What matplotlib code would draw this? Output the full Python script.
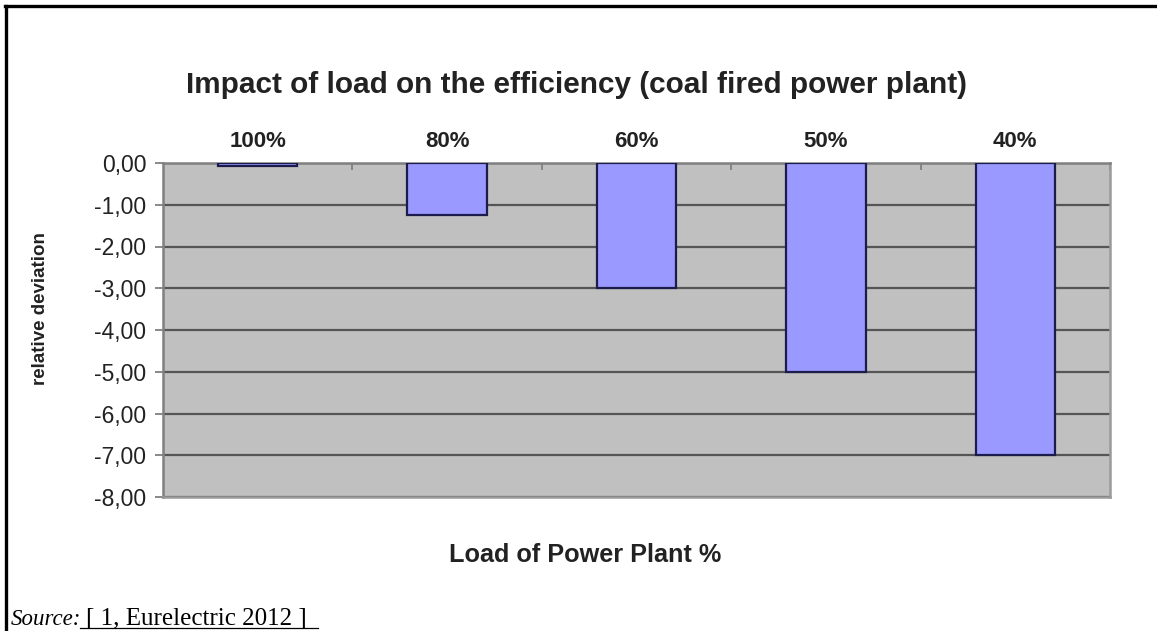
import matplotlib.pyplot as plt
import matplotlib.lines as mlines

# data
loads = ['100%', '80%', '60%', '50%', '40%']
deviation = [-0.08, -1.25, -3.0, -5.0, -7.0]
y_ticks = [0, -1, -2, -3, -4, -5, -6, -7, -8]

W, H = 1157, 631
fig = plt.figure(figsize=(W / 100, H / 100), dpi=100)
fig.patch.set_facecolor('white')

# plot area in pixel coords
left, right, top, bottom = 163, 1110, 163, 497
ax = fig.add_axes([left / W, 1 - bottom / H, (right - left) / W, (bottom - top) / H])
ax.set_facecolor('#C0C0C0')

x = list(range(len(loads)))
ax.bar(x, deviation, width=0.42, color='#9999FF', edgecolor='#1C1C4C',
       linewidth=1.6, zorder=3)

ax.set_xlim(-0.5, len(loads) - 0.5)
ax.set_ylim(-8, 0)

# gridlines
ax.set_yticks(y_ticks)
ax.yaxis.grid(True, color='#555555', linewidth=1.6, zorder=1)
ax.set_axisbelow(True)
ax.set_yticklabels([f'{v:.2f}'.replace('.', ',') for v in y_ticks],
                   fontsize=16.5, family='Liberation Sans', color='#222222')
ax.tick_params(axis='y', direction='out', length=6, width=1.3, color='#808080', pad=6)

# category labels on top
ax.xaxis.tick_top()
ax.set_xticks(x)
ax.set_xticklabels(loads, fontsize=16, fontweight='bold', family='Liberation Sans',
                   color='#222222')
ax.tick_params(axis='x', which='major', length=0, pad=8)
ax.set_xticks([i + 0.5 for i in range(len(loads))], minor=True)
ax.tick_params(axis='x', which='minor', direction='in', length=5, width=1.3,
               color='#808080', top=True, bottom=False)

for s in ['top', 'left']:
    ax.spines[s].set_color('#808080')
    ax.spines[s].set_linewidth(1.8)
for s in ['right', 'bottom']:
    ax.spines[s].set_color('#9A9A9A')
    ax.spines[s].set_linewidth(1.8)

fig.text(41 / W, 1 - 309 / H, 'relative deviation', rotation=90, ha='center', va='center',
         fontsize=13.5, fontweight='bold', family='Liberation Sans', color='#222222')

fig.text(576 / W, 1 - 85 / H, 'Impact of load on the efficiency (coal fired power plant)',
         ha='center', va='center', fontsize=21.4, fontweight='bold',
         family='Liberation Sans', color='#222222')
fig.text(585 / W, 1 - 555 / H, 'Load of Power Plant %', ha='center', va='center',
         fontsize=18.2, fontweight='bold', family='Liberation Sans', color='#222222')

# outer frame (top and left only)
fig.add_artist(mlines.Line2D([5 / W, 1], [1 - 6 / H, 1 - 6 / H], color='black',
                             linewidth=2.4, transform=fig.transFigure))
fig.add_artist(mlines.Line2D([6 / W, 6 / W], [0, 1 - 6 / H], color='black',
                             linewidth=2.4, transform=fig.transFigure))

# source line
fig.text(11 / W, 1 - 625 / H, 'Source:', fontsize=16.5, style='italic',
         family='Liberation Serif', va='baseline')
fig.text(86 / W, 1 - 625 / H, '[ 1, Eurelectric 2012 ]', fontsize=18,
         family='Liberation Serif', va='baseline')
fig.add_artist(mlines.Line2D([80 / W, 318 / W], [1 - 628 / H, 1 - 628 / H], color='black',
                             linewidth=0.9, transform=fig.transFigure))

fig.savefig('out.png', dpi=100)
